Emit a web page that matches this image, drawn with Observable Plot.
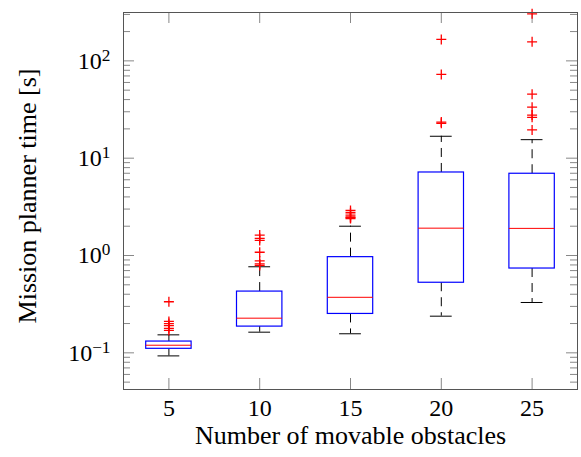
<!DOCTYPE html>
<html><head><meta charset="utf-8">
<script src="https://cdn.jsdelivr.net/npm/d3@7"></script>
<script src="https://cdn.jsdelivr.net/npm/@observablehq/plot@0.6"></script>
<style>body{margin:0;background:#fff}</style>
</head><body><div id="chart"></div>
<script>
// Data
const groups = [5, 10, 15, 20, 25];
const q1 = [0.110, 0.186, 0.251, 0.525, 0.735];
const median = [0.1197, 0.227, 0.372, 1.91, 1.90];
const q3 = [0.1306, 0.426, 0.962, 7.13, 6.92];
const whiskerLow = [0.093, 0.163, 0.157, 0.238, 0.329];
const whiskerHigh = [0.153, 0.766, 2.0, 16.8, 15.5];
const outliers5 = [0.335, 0.21, 0.20, 0.19, 0.178, 0.17];
const outliers10 = [1.62, 1.50, 1.43, 1.08, 0.88, 0.82, 0.79];
const outliers15 = [2.9, 2.75, 2.6, 2.5, 2.45, 2.4];
const outliers20 = [166, 72.5, 23.5, 22.8];
const outliers25 = [304, 157, 45.5, 33.4, 27.7, 26.3, 19.5];
const yTickValues = [0.1, 1, 10, 100];
const yTickExponents = ["−1", "0", "1", "2"];
const xLabel = "Number of movable obstacles";
const yLabel = "Mission planner time [s]";

const outliers = [outliers5, outliers10, outliers15, outliers20, outliers25];
const W = 581, H = 457, mL = 123, mR = 4, mT = 12, mB = 68;
const innerW = W - mL - mR, innerH = H - mT - mB;
const yDomain = [0.042, 314];
const boxHalf = 1.25, capHalf = 0.6;

const boxes = groups.map((n, i) => ({n, q1: q1[i], med: median[i], q3: q3[i], lo: whiskerLow[i], hi: whiskerHigh[i]}));
const outlierData = groups.flatMap((n, i) => outliers[i].map(v => ({n, v})));
const minorY = [];
for (let e = -2; e <= 2; e++) for (let k = 2; k <= 9; k++) {
  const v = k * Math.pow(10, e);
  if (v >= yDomain[0] && v <= yDomain[1]) minorY.push(v);
}
const crossSymbol = {draw(ctx, size) {
  const r = Math.sqrt(size / Math.PI);
  ctx.moveTo(-r, 0); ctx.lineTo(r, 0); ctx.moveTo(0, -r); ctx.lineTo(0, r);
}};
const tickColor = "#888";
const dash = "9,6";

const chart = Plot.plot({
  width: W, height: H, marginLeft: mL, marginRight: mR, marginTop: mT, marginBottom: mB,
  style: {fontFamily: "'Liberation Serif', 'Times New Roman', serif", fontSize: "24px", color: "#000", background: "#fff"},
  x: {domain: [2.5, 27.5], axis: null},
  y: {type: "log", domain: yDomain, axis: null},
  marks: [
    Plot.tickY(minorY, {y: d => d, insetRight: innerW - 7, stroke: tickColor}),
    Plot.tickY(minorY, {y: d => d, insetLeft: innerW - 7, stroke: tickColor}),
    Plot.tickY(yTickValues, {y: d => d, insetRight: innerW - 11, stroke: tickColor}),
    Plot.tickY(yTickValues, {y: d => d, insetLeft: innerW - 11, stroke: tickColor}),
    Plot.tickX(groups, {x: d => d, insetTop: innerH - 11, stroke: tickColor}),
    Plot.tickX(groups, {x: d => d, insetBottom: innerH - 11, stroke: tickColor}),
    Plot.axisX({ticks: groups, tickSize: 0, tickPadding: 9, tickFormat: d => String(d), label: null}),
    Plot.axisY({ticks: yTickValues, tickSize: 0, tickPadding: 13,
      tickFormat: d => "10^" + yTickExponents[yTickValues.indexOf(d)], label: null}),
    Plot.text([xLabel], {frameAnchor: "bottom", textAnchor: "middle", dy: 54, fontSize: 26}),
    Plot.text([yLabel], {frameAnchor: "left", textAnchor: "middle", dx: -96, dy: -5, rotate: -90, fontSize: 26}),
    Plot.ruleX(boxes, {x: "n", y1: "q3", y2: "hi", stroke: "black", strokeDasharray: dash}),
    Plot.ruleX(boxes, {x: "n", y1: "q1", y2: "lo", stroke: "black", strokeDasharray: dash}),
    Plot.ruleY(boxes, {y: "hi", x1: d => d.n - capHalf, x2: d => d.n + capHalf, stroke: "black"}),
    Plot.ruleY(boxes, {y: "lo", x1: d => d.n - capHalf, x2: d => d.n + capHalf, stroke: "black"}),
    Plot.rect(boxes, {x1: d => d.n - boxHalf, x2: d => d.n + boxHalf, y1: "q1", y2: "q3", fill: "white", stroke: "blue", strokeWidth: 1.2}),
    Plot.ruleY(boxes, {y: "med", x1: d => d.n - boxHalf, x2: d => d.n + boxHalf, stroke: "red"}),
    Plot.dot(outlierData, {x: "n", y: "v", symbol: crossSymbol, r: 5, stroke: "red", fill: "none", strokeWidth: 1.3}),
    Plot.frame({stroke: "#555"})
  ]
});

d3.select(chart).selectAll('g[aria-label="y-axis tick label"] text').each(function() {
  const m = this.textContent.match(/^10\^(.*)$/);
  if (!m) return;
  const sel = d3.select(this);
  sel.text("10");
  sel.append("tspan").attr("dy", "-0.45em").attr("font-size", "0.72em").text(m[1]);
});

document.getElementById("chart").appendChild(chart);
</script>
</body></html>
